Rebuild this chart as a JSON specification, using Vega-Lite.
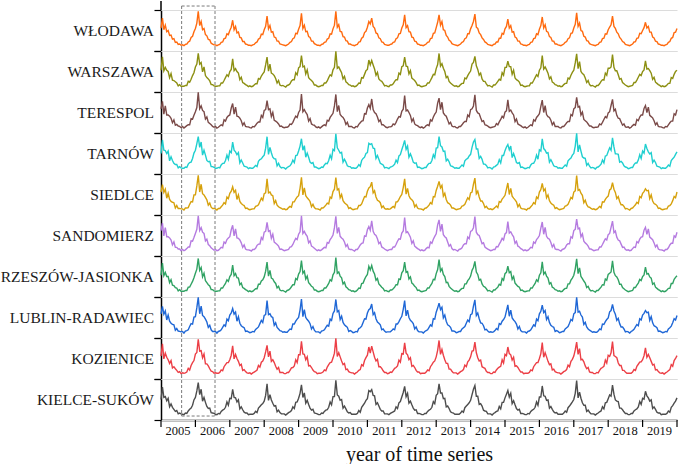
{
"$schema":"https://vega.github.io/schema/vega-lite/v6.json",
"autosize":{"type":"pad"},
"padding":{"left":0,"top":0,"right":0,"bottom":0},
"background":"white",
"bounds":"flush",
"data":{"values":[
{"t":2005,"a":56,"b":53,"c":59,"d":50,"e":56,"f":62,"g":53,"h":59,"i":56,"j":50},
{"t":2005.042,"a":80,"b":86,"c":77,"d":83,"e":74,"f":80,"g":83,"h":77,"i":86,"j":80},
{"t":2005.083,"a":52,"b":52,"c":46,"d":58,"e":55,"f":49,"g":52,"h":58,"i":49,"j":55},
{"t":2005.125,"a":63,"b":60,"c":66,"d":57,"e":63,"f":69,"g":60,"h":66,"i":63,"j":57},
{"t":2005.167,"a":47,"b":53,"c":44,"d":50,"e":41,"f":47,"g":50,"h":44,"i":53,"j":47},
{"t":2005.208,"a":50,"b":50,"c":44,"d":56,"e":53,"f":47,"g":50,"h":56,"i":47,"j":53},
{"t":2005.25,"a":38,"b":35,"c":41,"d":32,"e":38,"f":44,"g":35,"h":41,"i":38,"j":32},
{"t":2005.292,"a":39,"b":45,"c":36,"d":42,"e":33,"f":39,"g":42,"h":36,"i":45,"j":39},
{"t":2005.333,"a":29,"b":29,"c":25,"d":33,"e":31,"f":27,"g":29,"h":33,"i":27,"j":31},
{"t":2005.375,"a":30,"b":28,"c":32,"d":26,"e":30,"f":34,"g":28,"h":32,"i":30,"j":26},
{"t":2005.417,"a":21,"b":25,"c":19,"d":23,"e":17,"f":21,"g":23,"h":19,"i":25,"j":21},
{"t":2005.458,"a":22,"b":22,"c":21,"d":23,"e":23,"f":21,"g":22,"h":23,"i":21,"j":23},
{"t":2005.5,"a":16,"b":15,"c":17,"d":15,"e":16,"f":17,"g":15,"h":17,"i":16,"j":15},
{"t":2005.542,"a":17,"b":18,"c":16,"d":18,"e":16,"f":17,"g":18,"h":16,"i":18,"j":17},
{"t":2005.583,"a":14,"b":14,"c":13,"d":15,"e":15,"f":13,"g":14,"h":15,"i":13,"j":15},
{"t":2005.625,"a":15,"b":14,"c":16,"d":14,"e":15,"f":16,"g":14,"h":16,"i":15,"j":14},
{"t":2005.667,"a":13,"b":14,"c":12,"d":14,"e":12,"f":13,"g":14,"h":12,"i":14,"j":13},
{"t":2005.708,"a":16,"b":16,"c":15,"d":17,"e":17,"f":15,"g":16,"h":17,"i":15,"j":17},
{"t":2005.75,"a":17,"b":16,"c":18,"d":16,"e":17,"f":18,"g":16,"h":18,"i":17,"j":16},
{"t":2005.792,"a":22,"b":26,"c":20,"d":24,"e":18,"f":22,"g":24,"h":20,"i":26,"j":22},
{"t":2005.833,"a":24,"b":24,"c":20,"d":28,"e":26,"f":22,"g":24,"h":28,"i":22,"j":26},
{"t":2005.875,"a":33,"b":31,"c":35,"d":29,"e":33,"f":37,"g":31,"h":35,"i":33,"j":29},
{"t":2005.917,"a":36,"b":40,"c":34,"d":38,"e":32,"f":36,"g":38,"h":34,"i":40,"j":36},
{"t":2005.958,"a":47,"b":47,"c":43,"d":51,"e":49,"f":45,"g":47,"h":51,"i":45,"j":49},
{"t":2006,"a":55,"b":61,"c":52,"d":58,"e":49,"f":55,"g":58,"h":52,"i":61,"j":55},
{"t":2006.042,"a":68,"b":68,"c":62,"d":74,"e":71,"f":65,"g":68,"h":74,"i":65,"j":71},
{"t":2006.083,"a":97,"b":94,"c":99,"d":91,"e":97,"f":98,"g":94,"h":99,"i":97,"j":91},
{"t":2006.125,"a":62,"b":68,"c":59,"d":65,"e":56,"f":62,"g":65,"h":59,"i":68,"j":62},
{"t":2006.167,"a":72,"b":72,"c":66,"d":78,"e":75,"f":69,"g":72,"h":78,"i":69,"j":75},
{"t":2006.208,"a":52,"b":49,"c":55,"d":46,"e":52,"f":58,"g":49,"h":55,"i":52,"j":46},
{"t":2006.25,"a":55,"b":61,"c":52,"d":58,"e":49,"f":55,"g":58,"h":52,"i":61,"j":55},
{"t":2006.292,"a":40,"b":40,"c":34,"d":46,"e":43,"f":37,"g":40,"h":46,"i":37,"j":43},
{"t":2006.333,"a":37,"b":35,"c":39,"d":33,"e":37,"f":41,"g":35,"h":39,"i":37,"j":33},
{"t":2006.375,"a":28,"b":32,"c":26,"d":30,"e":24,"f":28,"g":30,"h":26,"i":32,"j":28},
{"t":2006.417,"a":27,"b":27,"c":23,"d":31,"e":29,"f":25,"g":27,"h":31,"i":25,"j":29},
{"t":2006.458,"a":19,"b":18,"c":20,"d":18,"e":19,"f":20,"g":18,"h":20,"i":19,"j":18},
{"t":2006.5,"a":17,"b":18,"c":16,"d":18,"e":16,"f":17,"g":18,"h":16,"i":18,"j":17},
{"t":2006.542,"a":15,"b":15,"c":14,"d":16,"e":16,"f":14,"g":15,"h":16,"i":14,"j":16},
{"t":2006.583,"a":15,"b":14,"c":16,"d":14,"e":15,"f":16,"g":14,"h":16,"i":15,"j":14},
{"t":2006.625,"a":13,"b":14,"c":12,"d":14,"e":12,"f":13,"g":14,"h":12,"i":14,"j":13},
{"t":2006.667,"a":15,"b":15,"c":14,"d":16,"e":16,"f":14,"g":15,"h":16,"i":14,"j":16},
{"t":2006.708,"a":16,"b":15,"c":17,"d":15,"e":16,"f":17,"g":15,"h":17,"i":16,"j":15},
{"t":2006.75,"a":21,"b":22,"c":20,"d":22,"e":20,"f":21,"g":22,"h":20,"i":22,"j":21},
{"t":2006.792,"a":22,"b":22,"c":18,"d":26,"e":24,"f":20,"g":22,"h":26,"i":20,"j":24},
{"t":2006.833,"a":30,"b":28,"c":32,"d":26,"e":30,"f":34,"g":28,"h":32,"i":30,"j":26},
{"t":2006.875,"a":31,"b":35,"c":29,"d":33,"e":27,"f":31,"g":33,"h":29,"i":35,"j":31},
{"t":2006.917,"a":42,"b":42,"c":38,"d":46,"e":44,"f":40,"g":42,"h":46,"i":40,"j":44},
{"t":2006.958,"a":40,"b":38,"c":42,"d":36,"e":40,"f":44,"g":38,"h":42,"i":40,"j":36},
{"t":2007,"a":50,"b":50,"c":44,"d":56,"e":53,"f":47,"g":50,"h":56,"i":47,"j":53},
{"t":2007.042,"a":58,"b":55,"c":61,"d":52,"e":58,"f":64,"g":55,"h":61,"i":58,"j":52},
{"t":2007.083,"a":75,"b":81,"c":72,"d":78,"e":69,"f":75,"g":78,"h":72,"i":81,"j":75},
{"t":2007.125,"a":52,"b":52,"c":46,"d":58,"e":55,"f":49,"g":52,"h":58,"i":49,"j":55},
{"t":2007.167,"a":60,"b":57,"c":63,"d":54,"e":60,"f":66,"g":57,"h":63,"i":60,"j":54},
{"t":2007.208,"a":44,"b":50,"c":41,"d":47,"e":38,"f":44,"g":47,"h":41,"i":50,"j":44},
{"t":2007.25,"a":46,"b":46,"c":40,"d":52,"e":49,"f":43,"g":46,"h":52,"i":43,"j":49},
{"t":2007.292,"a":33,"b":30,"c":36,"d":27,"e":33,"f":39,"g":30,"h":36,"i":33,"j":27},
{"t":2007.333,"a":32,"b":36,"c":30,"d":34,"e":28,"f":32,"g":34,"h":30,"i":36,"j":32},
{"t":2007.375,"a":23,"b":23,"c":19,"d":27,"e":25,"f":21,"g":23,"h":27,"i":21,"j":25},
{"t":2007.417,"a":23,"b":21,"c":25,"d":19,"e":23,"f":27,"g":21,"h":25,"i":23,"j":19},
{"t":2007.458,"a":17,"b":18,"c":16,"d":18,"e":16,"f":17,"g":18,"h":16,"i":18,"j":17},
{"t":2007.5,"a":16,"b":16,"c":15,"d":17,"e":17,"f":15,"g":16,"h":17,"i":15,"j":17},
{"t":2007.542,"a":14,"b":13,"c":15,"d":13,"e":14,"f":15,"g":13,"h":15,"i":14,"j":13},
{"t":2007.583,"a":14,"b":15,"c":13,"d":15,"e":13,"f":14,"g":15,"h":13,"i":15,"j":14},
{"t":2007.625,"a":13,"b":13,"c":12,"d":14,"e":14,"f":12,"g":13,"h":14,"i":12,"j":14},
{"t":2007.667,"a":15,"b":14,"c":16,"d":14,"e":15,"f":16,"g":14,"h":16,"i":15,"j":14},
{"t":2007.708,"a":16,"b":17,"c":15,"d":17,"e":15,"f":16,"g":17,"h":15,"i":17,"j":16},
{"t":2007.75,"a":20,"b":20,"c":19,"d":21,"e":21,"f":19,"g":20,"h":21,"i":19,"j":21},
{"t":2007.792,"a":22,"b":20,"c":24,"d":18,"e":22,"f":26,"g":20,"h":24,"i":22,"j":18},
{"t":2007.833,"a":29,"b":33,"c":27,"d":31,"e":25,"f":29,"g":31,"h":27,"i":33,"j":29},
{"t":2007.875,"a":31,"b":31,"c":27,"d":35,"e":33,"f":29,"g":31,"h":35,"i":29,"j":33},
{"t":2007.917,"a":41,"b":39,"c":43,"d":37,"e":41,"f":45,"g":39,"h":43,"i":41,"j":37},
{"t":2007.958,"a":40,"b":44,"c":38,"d":42,"e":36,"f":40,"g":42,"h":38,"i":44,"j":40},
{"t":2008,"a":52,"b":49,"c":55,"d":46,"e":52,"f":58,"g":49,"h":55,"i":52,"j":46},
{"t":2008.042,"a":60,"b":66,"c":57,"d":63,"e":54,"f":60,"g":63,"h":57,"i":66,"j":60},
{"t":2008.083,"a":85,"b":85,"c":79,"d":91,"e":88,"f":82,"g":85,"h":91,"i":82,"j":88},
{"t":2008.125,"a":54,"b":51,"c":57,"d":48,"e":54,"f":60,"g":51,"h":57,"i":54,"j":48},
{"t":2008.167,"a":62,"b":68,"c":59,"d":65,"e":56,"f":62,"g":65,"h":59,"i":68,"j":62},
{"t":2008.208,"a":46,"b":46,"c":40,"d":52,"e":49,"f":43,"g":46,"h":52,"i":43,"j":49},
{"t":2008.25,"a":47,"b":44,"c":50,"d":41,"e":47,"f":53,"g":44,"h":50,"i":47,"j":41},
{"t":2008.292,"a":34,"b":40,"c":31,"d":37,"e":28,"f":34,"g":37,"h":31,"i":40,"j":34},
{"t":2008.333,"a":33,"b":33,"c":29,"d":37,"e":35,"f":31,"g":33,"h":37,"i":31,"j":35},
{"t":2008.375,"a":24,"b":22,"c":26,"d":20,"e":24,"f":28,"g":22,"h":26,"i":24,"j":20},
{"t":2008.417,"a":24,"b":28,"c":22,"d":26,"e":20,"f":24,"g":26,"h":22,"i":28,"j":24},
{"t":2008.458,"a":17,"b":17,"c":16,"d":18,"e":18,"f":16,"g":17,"h":18,"i":16,"j":18},
{"t":2008.5,"a":16,"b":15,"c":17,"d":15,"e":16,"f":17,"g":15,"h":17,"i":16,"j":15},
{"t":2008.542,"a":15,"b":16,"c":14,"d":16,"e":14,"f":15,"g":16,"h":14,"i":16,"j":15},
{"t":2008.583,"a":14,"b":14,"c":13,"d":15,"e":15,"f":13,"g":14,"h":15,"i":13,"j":15},
{"t":2008.625,"a":13,"b":12,"c":14,"d":12,"e":13,"f":14,"g":12,"h":14,"i":13,"j":12},
{"t":2008.667,"a":15,"b":16,"c":14,"d":16,"e":14,"f":15,"g":16,"h":14,"i":16,"j":15},
{"t":2008.708,"a":17,"b":17,"c":16,"d":18,"e":18,"f":16,"g":17,"h":18,"i":16,"j":18},
{"t":2008.75,"a":21,"b":20,"c":22,"d":20,"e":21,"f":22,"g":20,"h":22,"i":21,"j":20},
{"t":2008.792,"a":23,"b":27,"c":21,"d":25,"e":19,"f":23,"g":25,"h":21,"i":27,"j":23},
{"t":2008.833,"a":30,"b":30,"c":26,"d":34,"e":32,"f":28,"g":30,"h":34,"i":28,"j":32},
{"t":2008.875,"a":32,"b":30,"c":34,"d":28,"e":32,"f":36,"g":30,"h":34,"i":32,"j":28},
{"t":2008.917,"a":43,"b":47,"c":41,"d":45,"e":39,"f":43,"g":45,"h":41,"i":47,"j":43},
{"t":2008.958,"a":42,"b":42,"c":38,"d":46,"e":44,"f":40,"g":42,"h":46,"i":40,"j":44},
{"t":2009,"a":53,"b":59,"c":50,"d":56,"e":47,"f":53,"g":56,"h":50,"i":59,"j":53},
{"t":2009.042,"a":62,"b":62,"c":56,"d":68,"e":65,"f":59,"g":62,"h":68,"i":59,"j":65},
{"t":2009.083,"a":92,"b":89,"c":95,"d":86,"e":92,"f":98,"g":89,"h":95,"i":92,"j":86},
{"t":2009.125,"a":55,"b":61,"c":52,"d":58,"e":49,"f":55,"g":58,"h":52,"i":61,"j":55},
{"t":2009.167,"a":63,"b":63,"c":57,"d":69,"e":66,"f":60,"g":63,"h":69,"i":60,"j":66},
{"t":2009.208,"a":47,"b":44,"c":50,"d":41,"e":47,"f":53,"g":44,"h":50,"i":47,"j":41},
{"t":2009.25,"a":48,"b":54,"c":45,"d":51,"e":42,"f":48,"g":51,"h":45,"i":54,"j":48},
{"t":2009.292,"a":35,"b":35,"c":29,"d":41,"e":38,"f":32,"g":35,"h":41,"i":32,"j":38},
{"t":2009.333,"a":33,"b":31,"c":35,"d":29,"e":33,"f":37,"g":31,"h":35,"i":33,"j":29},
{"t":2009.375,"a":24,"b":28,"c":22,"d":26,"e":20,"f":24,"g":26,"h":22,"i":28,"j":24},
{"t":2009.417,"a":24,"b":24,"c":20,"d":28,"e":26,"f":22,"g":24,"h":28,"i":22,"j":26},
{"t":2009.458,"a":18,"b":17,"c":19,"d":17,"e":18,"f":19,"g":17,"h":19,"i":18,"j":17},
{"t":2009.5,"a":16,"b":17,"c":15,"d":17,"e":15,"f":16,"g":17,"h":15,"i":17,"j":16},
{"t":2009.542,"a":14,"b":14,"c":13,"d":15,"e":15,"f":13,"g":14,"h":15,"i":13,"j":15},
{"t":2009.583,"a":14,"b":13,"c":15,"d":13,"e":14,"f":15,"g":13,"h":15,"i":14,"j":13},
{"t":2009.625,"a":13,"b":14,"c":12,"d":14,"e":12,"f":13,"g":14,"h":12,"i":14,"j":13},
{"t":2009.667,"a":16,"b":16,"c":15,"d":17,"e":17,"f":15,"g":16,"h":17,"i":15,"j":17},
{"t":2009.708,"a":17,"b":16,"c":18,"d":16,"e":17,"f":18,"g":16,"h":18,"i":17,"j":16},
{"t":2009.75,"a":21,"b":22,"c":20,"d":22,"e":20,"f":21,"g":22,"h":20,"i":22,"j":21},
{"t":2009.792,"a":22,"b":22,"c":18,"d":26,"e":24,"f":20,"g":22,"h":26,"i":20,"j":24},
{"t":2009.833,"a":29,"b":27,"c":31,"d":25,"e":29,"f":33,"g":27,"h":31,"i":29,"j":25},
{"t":2009.875,"a":31,"b":35,"c":29,"d":33,"e":27,"f":31,"g":33,"h":29,"i":35,"j":31},
{"t":2009.917,"a":42,"b":42,"c":38,"d":46,"e":44,"f":40,"g":42,"h":46,"i":40,"j":44},
{"t":2009.958,"a":41,"b":39,"c":43,"d":37,"e":41,"f":45,"g":39,"h":43,"i":41,"j":37},
{"t":2010,"a":54,"b":54,"c":48,"d":60,"e":57,"f":51,"g":54,"h":60,"i":51,"j":57},
{"t":2010.042,"a":63,"b":60,"c":66,"d":57,"e":63,"f":69,"g":60,"h":66,"i":63,"j":57},
{"t":2010.083,"a":97,"b":99,"c":94,"d":98,"e":91,"f":97,"g":96,"h":94,"i":99,"j":97},
{"t":2010.125,"a":58,"b":58,"c":52,"d":64,"e":61,"f":55,"g":58,"h":64,"i":55,"j":61},
{"t":2010.167,"a":64,"b":61,"c":67,"d":58,"e":64,"f":70,"g":61,"h":67,"i":64,"j":58},
{"t":2010.208,"a":48,"b":54,"c":45,"d":51,"e":42,"f":48,"g":51,"h":45,"i":54,"j":48},
{"t":2010.25,"a":47,"b":47,"c":41,"d":53,"e":50,"f":44,"g":47,"h":53,"i":44,"j":50},
{"t":2010.292,"a":35,"b":32,"c":38,"d":29,"e":35,"f":41,"g":32,"h":38,"i":35,"j":29},
{"t":2010.333,"a":34,"b":38,"c":32,"d":36,"e":30,"f":34,"g":36,"h":32,"i":38,"j":34},
{"t":2010.375,"a":25,"b":25,"c":21,"d":29,"e":27,"f":23,"g":25,"h":29,"i":23,"j":27},
{"t":2010.417,"a":24,"b":22,"c":26,"d":20,"e":24,"f":28,"g":22,"h":26,"i":24,"j":20},
{"t":2010.458,"a":17,"b":18,"c":16,"d":18,"e":16,"f":17,"g":18,"h":16,"i":18,"j":17},
{"t":2010.5,"a":17,"b":17,"c":16,"d":18,"e":18,"f":16,"g":17,"h":18,"i":16,"j":18},
{"t":2010.542,"a":15,"b":14,"c":16,"d":14,"e":15,"f":16,"g":14,"h":16,"i":15,"j":14},
{"t":2010.583,"a":14,"b":15,"c":13,"d":15,"e":13,"f":14,"g":15,"h":13,"i":15,"j":14},
{"t":2010.625,"a":13,"b":13,"c":12,"d":14,"e":14,"f":12,"g":13,"h":14,"i":12,"j":14},
{"t":2010.667,"a":15,"b":14,"c":16,"d":14,"e":15,"f":16,"g":14,"h":16,"i":15,"j":14},
{"t":2010.708,"a":16,"b":17,"c":15,"d":17,"e":15,"f":16,"g":17,"h":15,"i":17,"j":16},
{"t":2010.75,"a":22,"b":22,"c":21,"d":23,"e":23,"f":21,"g":22,"h":23,"i":21,"j":23},
{"t":2010.792,"a":23,"b":21,"c":25,"d":19,"e":23,"f":27,"g":21,"h":25,"i":23,"j":19},
{"t":2010.833,"a":31,"b":35,"c":29,"d":33,"e":27,"f":31,"g":33,"h":29,"i":35,"j":31},
{"t":2010.875,"a":34,"b":34,"c":30,"d":38,"e":36,"f":32,"g":34,"h":38,"i":32,"j":36},
{"t":2010.917,"a":45,"b":43,"c":47,"d":41,"e":45,"f":49,"g":43,"h":47,"i":45,"j":41},
{"t":2010.958,"a":48,"b":52,"c":46,"d":50,"e":44,"f":48,"g":50,"h":46,"i":52,"j":48},
{"t":2011,"a":58,"b":55,"c":61,"d":52,"e":58,"f":64,"g":55,"h":61,"i":58,"j":52},
{"t":2011.042,"a":72,"b":78,"c":69,"d":75,"e":66,"f":72,"g":75,"h":69,"i":78,"j":72},
{"t":2011.083,"a":66,"b":66,"c":60,"d":72,"e":69,"f":63,"g":66,"h":72,"i":63,"j":69},
{"t":2011.125,"a":80,"b":77,"c":83,"d":74,"e":80,"f":86,"g":77,"h":83,"i":80,"j":74},
{"t":2011.167,"a":60,"b":66,"c":57,"d":63,"e":54,"f":60,"g":63,"h":57,"i":66,"j":60},
{"t":2011.208,"a":56,"b":56,"c":50,"d":62,"e":59,"f":53,"g":56,"h":62,"i":53,"j":59},
{"t":2011.25,"a":44,"b":41,"c":47,"d":38,"e":44,"f":50,"g":41,"h":47,"i":44,"j":38},
{"t":2011.292,"a":42,"b":48,"c":39,"d":45,"e":36,"f":42,"g":45,"h":39,"i":48,"j":42},
{"t":2011.333,"a":32,"b":32,"c":28,"d":36,"e":34,"f":30,"g":32,"h":36,"i":30,"j":34},
{"t":2011.375,"a":30,"b":28,"c":32,"d":26,"e":30,"f":34,"g":28,"h":32,"i":30,"j":26},
{"t":2011.417,"a":22,"b":26,"c":20,"d":24,"e":18,"f":22,"g":24,"h":20,"i":26,"j":22},
{"t":2011.458,"a":21,"b":21,"c":20,"d":22,"e":22,"f":20,"g":21,"h":22,"i":20,"j":22},
{"t":2011.5,"a":16,"b":15,"c":17,"d":15,"e":16,"f":17,"g":15,"h":17,"i":16,"j":15},
{"t":2011.542,"a":15,"b":16,"c":14,"d":16,"e":14,"f":15,"g":16,"h":14,"i":16,"j":15},
{"t":2011.583,"a":14,"b":14,"c":13,"d":15,"e":15,"f":13,"g":14,"h":15,"i":13,"j":15},
{"t":2011.625,"a":14,"b":13,"c":15,"d":13,"e":14,"f":15,"g":13,"h":15,"i":14,"j":13},
{"t":2011.667,"a":16,"b":17,"c":15,"d":17,"e":15,"f":16,"g":17,"h":15,"i":17,"j":16},
{"t":2011.708,"a":17,"b":17,"c":16,"d":18,"e":18,"f":16,"g":17,"h":18,"i":16,"j":18},
{"t":2011.75,"a":21,"b":20,"c":22,"d":20,"e":21,"f":22,"g":20,"h":22,"i":21,"j":20},
{"t":2011.792,"a":22,"b":26,"c":20,"d":24,"e":18,"f":22,"g":24,"h":20,"i":26,"j":22},
{"t":2011.833,"a":30,"b":30,"c":26,"d":34,"e":32,"f":28,"g":30,"h":34,"i":28,"j":32},
{"t":2011.875,"a":32,"b":30,"c":34,"d":28,"e":32,"f":36,"g":30,"h":34,"i":32,"j":28},
{"t":2011.917,"a":42,"b":46,"c":40,"d":44,"e":38,"f":42,"g":44,"h":40,"i":46,"j":42},
{"t":2011.958,"a":43,"b":43,"c":39,"d":47,"e":45,"f":41,"g":43,"h":47,"i":41,"j":45},
{"t":2012,"a":56,"b":62,"c":53,"d":59,"e":50,"f":56,"g":59,"h":53,"i":62,"j":56},
{"t":2012.042,"a":64,"b":64,"c":58,"d":70,"e":67,"f":61,"g":64,"h":70,"i":61,"j":67},
{"t":2012.083,"a":88,"b":85,"c":91,"d":82,"e":88,"f":94,"g":85,"h":91,"i":88,"j":82},
{"t":2012.125,"a":57,"b":63,"c":54,"d":60,"e":51,"f":57,"g":60,"h":54,"i":63,"j":57},
{"t":2012.167,"a":62,"b":62,"c":56,"d":68,"e":65,"f":59,"g":62,"h":68,"i":59,"j":65},
{"t":2012.208,"a":47,"b":44,"c":50,"d":41,"e":47,"f":53,"g":44,"h":50,"i":47,"j":41},
{"t":2012.25,"a":46,"b":52,"c":43,"d":49,"e":40,"f":46,"g":49,"h":43,"i":52,"j":46},
{"t":2012.292,"a":34,"b":34,"c":28,"d":40,"e":37,"f":31,"g":34,"h":40,"i":31,"j":37},
{"t":2012.333,"a":33,"b":31,"c":35,"d":29,"e":33,"f":37,"g":31,"h":35,"i":33,"j":29},
{"t":2012.375,"a":24,"b":28,"c":22,"d":26,"e":20,"f":24,"g":26,"h":22,"i":28,"j":24},
{"t":2012.417,"a":23,"b":23,"c":19,"d":27,"e":25,"f":21,"g":23,"h":27,"i":21,"j":25},
{"t":2012.458,"a":17,"b":16,"c":18,"d":16,"e":17,"f":18,"g":16,"h":18,"i":17,"j":16},
{"t":2012.5,"a":16,"b":17,"c":15,"d":17,"e":15,"f":16,"g":17,"h":15,"i":17,"j":16},
{"t":2012.542,"a":14,"b":14,"c":13,"d":15,"e":15,"f":13,"g":14,"h":15,"i":13,"j":15},
{"t":2012.583,"a":14,"b":13,"c":15,"d":13,"e":14,"f":15,"g":13,"h":15,"i":14,"j":13},
{"t":2012.625,"a":13,"b":14,"c":12,"d":14,"e":12,"f":13,"g":14,"h":12,"i":14,"j":13},
{"t":2012.667,"a":15,"b":15,"c":14,"d":16,"e":16,"f":14,"g":15,"h":16,"i":14,"j":16},
{"t":2012.708,"a":17,"b":16,"c":18,"d":16,"e":17,"f":18,"g":16,"h":18,"i":17,"j":16},
{"t":2012.75,"a":21,"b":22,"c":20,"d":22,"e":20,"f":21,"g":22,"h":20,"i":22,"j":21},
{"t":2012.792,"a":22,"b":22,"c":18,"d":26,"e":24,"f":20,"g":22,"h":26,"i":20,"j":24},
{"t":2012.833,"a":30,"b":28,"c":32,"d":26,"e":30,"f":34,"g":28,"h":32,"i":30,"j":26},
{"t":2012.875,"a":31,"b":35,"c":29,"d":33,"e":27,"f":31,"g":33,"h":29,"i":35,"j":31},
{"t":2012.917,"a":43,"b":43,"c":39,"d":47,"e":45,"f":41,"g":43,"h":47,"i":41,"j":45},
{"t":2012.958,"a":44,"b":42,"c":46,"d":40,"e":44,"f":48,"g":42,"h":46,"i":44,"j":40},
{"t":2013,"a":57,"b":57,"c":51,"d":63,"e":60,"f":54,"g":57,"h":63,"i":54,"j":60},
{"t":2013.042,"a":70,"b":67,"c":73,"d":64,"e":70,"f":76,"g":67,"h":73,"i":70,"j":64},
{"t":2013.083,"a":88,"b":94,"c":85,"d":91,"e":82,"f":88,"g":91,"h":85,"i":94,"j":88},
{"t":2013.125,"a":63,"b":63,"c":57,"d":69,"e":66,"f":60,"g":63,"h":69,"i":60,"j":66},
{"t":2013.167,"a":72,"b":69,"c":75,"d":66,"e":72,"f":78,"g":69,"h":75,"i":72,"j":66},
{"t":2013.208,"a":52,"b":58,"c":49,"d":55,"e":46,"f":52,"g":55,"h":49,"i":58,"j":52},
{"t":2013.25,"a":50,"b":50,"c":44,"d":56,"e":53,"f":47,"g":50,"h":56,"i":47,"j":53},
{"t":2013.292,"a":38,"b":35,"c":41,"d":32,"e":38,"f":44,"g":35,"h":41,"i":38,"j":32},
{"t":2013.333,"a":34,"b":38,"c":32,"d":36,"e":30,"f":34,"g":36,"h":32,"i":38,"j":34},
{"t":2013.375,"a":26,"b":26,"c":22,"d":30,"e":28,"f":24,"g":26,"h":30,"i":24,"j":28},
{"t":2013.417,"a":24,"b":22,"c":26,"d":20,"e":24,"f":28,"g":22,"h":26,"i":24,"j":20},
{"t":2013.458,"a":18,"b":19,"c":17,"d":19,"e":17,"f":18,"g":19,"h":17,"i":19,"j":18},
{"t":2013.5,"a":16,"b":16,"c":15,"d":17,"e":17,"f":15,"g":16,"h":17,"i":15,"j":17},
{"t":2013.542,"a":15,"b":14,"c":16,"d":14,"e":15,"f":16,"g":14,"h":16,"i":15,"j":14},
{"t":2013.583,"a":14,"b":15,"c":13,"d":15,"e":13,"f":14,"g":15,"h":13,"i":15,"j":14},
{"t":2013.625,"a":13,"b":13,"c":12,"d":14,"e":14,"f":12,"g":13,"h":14,"i":12,"j":14},
{"t":2013.667,"a":15,"b":14,"c":16,"d":14,"e":15,"f":16,"g":14,"h":16,"i":15,"j":14},
{"t":2013.708,"a":17,"b":18,"c":16,"d":18,"e":16,"f":17,"g":18,"h":16,"i":18,"j":17},
{"t":2013.75,"a":21,"b":21,"c":20,"d":22,"e":22,"f":20,"g":21,"h":22,"i":20,"j":22},
{"t":2013.792,"a":23,"b":21,"c":25,"d":19,"e":23,"f":27,"g":21,"h":25,"i":23,"j":19},
{"t":2013.833,"a":30,"b":34,"c":28,"d":32,"e":26,"f":30,"g":32,"h":28,"i":34,"j":30},
{"t":2013.875,"a":32,"b":32,"c":28,"d":36,"e":34,"f":30,"g":32,"h":36,"i":30,"j":34},
{"t":2013.917,"a":42,"b":40,"c":44,"d":38,"e":42,"f":46,"g":40,"h":44,"i":42,"j":38},
{"t":2013.958,"a":42,"b":46,"c":40,"d":44,"e":38,"f":42,"g":44,"h":40,"i":46,"j":42},
{"t":2014,"a":54,"b":51,"c":57,"d":48,"e":54,"f":60,"g":51,"h":57,"i":54,"j":48},
{"t":2014.042,"a":62,"b":68,"c":59,"d":65,"e":56,"f":62,"g":65,"h":59,"i":68,"j":62},
{"t":2014.083,"a":72,"b":72,"c":66,"d":78,"e":75,"f":69,"g":72,"h":78,"i":69,"j":75},
{"t":2014.125,"a":90,"b":87,"c":93,"d":84,"e":90,"f":96,"g":87,"h":93,"i":90,"j":84},
{"t":2014.167,"a":58,"b":64,"c":55,"d":61,"e":52,"f":58,"g":61,"h":55,"i":64,"j":58},
{"t":2014.208,"a":55,"b":55,"c":49,"d":61,"e":58,"f":52,"g":55,"h":61,"i":52,"j":58},
{"t":2014.25,"a":44,"b":41,"c":47,"d":38,"e":44,"f":50,"g":41,"h":47,"i":44,"j":38},
{"t":2014.292,"a":40,"b":46,"c":37,"d":43,"e":34,"f":40,"g":43,"h":37,"i":46,"j":40},
{"t":2014.333,"a":32,"b":32,"c":28,"d":36,"e":34,"f":30,"g":32,"h":36,"i":30,"j":34},
{"t":2014.375,"a":28,"b":26,"c":30,"d":24,"e":28,"f":32,"g":26,"h":30,"i":28,"j":24},
{"t":2014.417,"a":22,"b":26,"c":20,"d":24,"e":18,"f":22,"g":24,"h":20,"i":26,"j":22},
{"t":2014.458,"a":20,"b":20,"c":19,"d":21,"e":21,"f":19,"g":20,"h":21,"i":19,"j":21},
{"t":2014.5,"a":16,"b":15,"c":17,"d":15,"e":16,"f":17,"g":15,"h":17,"i":16,"j":15},
{"t":2014.542,"a":15,"b":16,"c":14,"d":16,"e":14,"f":15,"g":16,"h":14,"i":16,"j":15},
{"t":2014.583,"a":14,"b":14,"c":13,"d":15,"e":15,"f":13,"g":14,"h":15,"i":13,"j":15},
{"t":2014.625,"a":13,"b":12,"c":14,"d":12,"e":13,"f":14,"g":12,"h":14,"i":13,"j":12},
{"t":2014.667,"a":16,"b":17,"c":15,"d":17,"e":15,"f":16,"g":17,"h":15,"i":17,"j":16},
{"t":2014.708,"a":17,"b":17,"c":16,"d":18,"e":18,"f":16,"g":17,"h":18,"i":16,"j":18},
{"t":2014.75,"a":22,"b":21,"c":23,"d":21,"e":22,"f":23,"g":21,"h":23,"i":22,"j":21},
{"t":2014.792,"a":22,"b":26,"c":20,"d":24,"e":18,"f":22,"g":24,"h":20,"i":26,"j":22},
{"t":2014.833,"a":31,"b":31,"c":27,"d":35,"e":33,"f":29,"g":31,"h":35,"i":29,"j":33},
{"t":2014.875,"a":31,"b":29,"c":33,"d":27,"e":31,"f":35,"g":29,"h":33,"i":31,"j":27},
{"t":2014.917,"a":43,"b":47,"c":41,"d":45,"e":39,"f":43,"g":45,"h":41,"i":47,"j":43},
{"t":2014.958,"a":41,"b":41,"c":37,"d":45,"e":43,"f":39,"g":41,"h":45,"i":39,"j":43},
{"t":2015,"a":54,"b":60,"c":51,"d":57,"e":48,"f":54,"g":57,"h":51,"i":60,"j":54},
{"t":2015.042,"a":60,"b":60,"c":54,"d":66,"e":63,"f":57,"g":60,"h":66,"i":57,"j":63},
{"t":2015.083,"a":78,"b":75,"c":81,"d":72,"e":78,"f":84,"g":75,"h":81,"i":78,"j":72},
{"t":2015.125,"a":56,"b":62,"c":53,"d":59,"e":50,"f":56,"g":59,"h":53,"i":62,"j":56},
{"t":2015.167,"a":62,"b":62,"c":56,"d":68,"e":65,"f":59,"g":62,"h":68,"i":59,"j":65},
{"t":2015.208,"a":46,"b":43,"c":49,"d":40,"e":46,"f":52,"g":43,"h":49,"i":46,"j":40},
{"t":2015.25,"a":47,"b":53,"c":44,"d":50,"e":41,"f":47,"g":50,"h":44,"i":53,"j":47},
{"t":2015.292,"a":34,"b":34,"c":28,"d":40,"e":37,"f":31,"g":34,"h":40,"i":31,"j":37},
{"t":2015.333,"a":32,"b":30,"c":34,"d":28,"e":32,"f":36,"g":30,"h":34,"i":32,"j":28},
{"t":2015.375,"a":24,"b":28,"c":22,"d":26,"e":20,"f":24,"g":26,"h":22,"i":28,"j":24},
{"t":2015.417,"a":24,"b":24,"c":20,"d":28,"e":26,"f":22,"g":24,"h":28,"i":22,"j":26},
{"t":2015.458,"a":17,"b":16,"c":18,"d":16,"e":17,"f":18,"g":16,"h":18,"i":17,"j":16},
{"t":2015.5,"a":16,"b":17,"c":15,"d":17,"e":15,"f":16,"g":17,"h":15,"i":17,"j":16},
{"t":2015.542,"a":14,"b":14,"c":13,"d":15,"e":15,"f":13,"g":14,"h":15,"i":13,"j":15},
{"t":2015.583,"a":14,"b":13,"c":15,"d":13,"e":14,"f":15,"g":13,"h":15,"i":14,"j":13},
{"t":2015.625,"a":13,"b":14,"c":12,"d":14,"e":12,"f":13,"g":14,"h":12,"i":14,"j":13},
{"t":2015.667,"a":15,"b":15,"c":14,"d":16,"e":16,"f":14,"g":15,"h":16,"i":14,"j":16},
{"t":2015.708,"a":16,"b":15,"c":17,"d":15,"e":16,"f":17,"g":15,"h":17,"i":16,"j":15},
{"t":2015.75,"a":21,"b":22,"c":20,"d":22,"e":20,"f":21,"g":22,"h":20,"i":22,"j":21},
{"t":2015.792,"a":22,"b":22,"c":18,"d":26,"e":24,"f":20,"g":22,"h":26,"i":20,"j":24},
{"t":2015.833,"a":30,"b":28,"c":32,"d":26,"e":30,"f":34,"g":28,"h":32,"i":30,"j":26},
{"t":2015.875,"a":31,"b":35,"c":29,"d":33,"e":27,"f":31,"g":33,"h":29,"i":35,"j":31},
{"t":2015.917,"a":42,"b":42,"c":38,"d":46,"e":44,"f":40,"g":42,"h":46,"i":40,"j":44},
{"t":2015.958,"a":40,"b":38,"c":42,"d":36,"e":40,"f":44,"g":38,"h":42,"i":40,"j":36},
{"t":2016,"a":53,"b":53,"c":47,"d":59,"e":56,"f":50,"g":53,"h":59,"i":50,"j":56},
{"t":2016.042,"a":62,"b":59,"c":65,"d":56,"e":62,"f":68,"g":59,"h":65,"i":62,"j":56},
{"t":2016.083,"a":83,"b":89,"c":80,"d":86,"e":77,"f":83,"g":86,"h":80,"i":89,"j":83},
{"t":2016.125,"a":56,"b":56,"c":50,"d":62,"e":59,"f":53,"g":56,"h":62,"i":53,"j":59},
{"t":2016.167,"a":64,"b":61,"c":67,"d":58,"e":64,"f":70,"g":61,"h":67,"i":64,"j":58},
{"t":2016.208,"a":48,"b":54,"c":45,"d":51,"e":42,"f":48,"g":51,"h":45,"i":54,"j":48},
{"t":2016.25,"a":46,"b":46,"c":40,"d":52,"e":49,"f":43,"g":46,"h":52,"i":43,"j":49},
{"t":2016.292,"a":35,"b":32,"c":38,"d":29,"e":35,"f":41,"g":32,"h":38,"i":35,"j":29},
{"t":2016.333,"a":33,"b":37,"c":31,"d":35,"e":29,"f":33,"g":35,"h":31,"i":37,"j":33},
{"t":2016.375,"a":24,"b":24,"c":20,"d":28,"e":26,"f":22,"g":24,"h":28,"i":22,"j":26},
{"t":2016.417,"a":24,"b":22,"c":26,"d":20,"e":24,"f":28,"g":22,"h":26,"i":24,"j":20},
{"t":2016.458,"a":17,"b":18,"c":16,"d":18,"e":16,"f":17,"g":18,"h":16,"i":18,"j":17},
{"t":2016.5,"a":17,"b":17,"c":16,"d":18,"e":18,"f":16,"g":17,"h":18,"i":16,"j":18},
{"t":2016.542,"a":15,"b":14,"c":16,"d":14,"e":15,"f":16,"g":14,"h":16,"i":15,"j":14},
{"t":2016.583,"a":14,"b":15,"c":13,"d":15,"e":13,"f":14,"g":15,"h":13,"i":15,"j":14},
{"t":2016.625,"a":13,"b":13,"c":12,"d":14,"e":14,"f":12,"g":13,"h":14,"i":12,"j":14},
{"t":2016.667,"a":15,"b":14,"c":16,"d":14,"e":15,"f":16,"g":14,"h":16,"i":15,"j":14},
{"t":2016.708,"a":17,"b":18,"c":16,"d":18,"e":16,"f":17,"g":18,"h":16,"i":18,"j":17},
{"t":2016.75,"a":21,"b":21,"c":20,"d":22,"e":22,"f":20,"g":21,"h":22,"i":20,"j":22},
{"t":2016.792,"a":23,"b":21,"c":25,"d":19,"e":23,"f":27,"g":21,"h":25,"i":23,"j":19},
{"t":2016.833,"a":30,"b":34,"c":28,"d":32,"e":26,"f":30,"g":32,"h":28,"i":34,"j":30},
{"t":2016.875,"a":32,"b":32,"c":28,"d":36,"e":34,"f":30,"g":32,"h":36,"i":30,"j":34},
{"t":2016.917,"a":43,"b":41,"c":45,"d":39,"e":43,"f":47,"g":41,"h":45,"i":43,"j":39},
{"t":2016.958,"a":44,"b":48,"c":42,"d":46,"e":40,"f":44,"g":46,"h":42,"i":48,"j":44},
{"t":2017,"a":56,"b":53,"c":59,"d":50,"e":56,"f":62,"g":53,"h":59,"i":56,"j":50},
{"t":2017.042,"a":65,"b":71,"c":62,"d":68,"e":59,"f":65,"g":68,"h":62,"i":71,"j":65},
{"t":2017.083,"a":93,"b":93,"c":87,"d":99,"e":96,"f":90,"g":93,"h":99,"i":90,"j":96},
{"t":2017.125,"a":60,"b":57,"c":63,"d":54,"e":60,"f":66,"g":57,"h":63,"i":60,"j":54},
{"t":2017.167,"a":68,"b":74,"c":65,"d":71,"e":62,"f":68,"g":71,"h":65,"i":74,"j":68},
{"t":2017.208,"a":50,"b":50,"c":44,"d":56,"e":53,"f":47,"g":50,"h":56,"i":47,"j":53},
{"t":2017.25,"a":48,"b":45,"c":51,"d":42,"e":48,"f":54,"g":45,"h":51,"i":48,"j":42},
{"t":2017.292,"a":36,"b":42,"c":33,"d":39,"e":30,"f":36,"g":39,"h":33,"i":42,"j":36},
{"t":2017.333,"a":34,"b":34,"c":30,"d":38,"e":36,"f":32,"g":34,"h":38,"i":32,"j":36},
{"t":2017.375,"a":25,"b":23,"c":27,"d":21,"e":25,"f":29,"g":23,"h":27,"i":25,"j":21},
{"t":2017.417,"a":24,"b":28,"c":22,"d":26,"e":20,"f":24,"g":26,"h":22,"i":28,"j":24},
{"t":2017.458,"a":18,"b":18,"c":17,"d":19,"e":19,"f":17,"g":18,"h":19,"i":17,"j":19},
{"t":2017.5,"a":16,"b":15,"c":17,"d":15,"e":16,"f":17,"g":15,"h":17,"i":16,"j":15},
{"t":2017.542,"a":15,"b":16,"c":14,"d":16,"e":14,"f":15,"g":16,"h":14,"i":16,"j":15},
{"t":2017.583,"a":14,"b":14,"c":13,"d":15,"e":15,"f":13,"g":14,"h":15,"i":13,"j":15},
{"t":2017.625,"a":13,"b":12,"c":14,"d":12,"e":13,"f":14,"g":12,"h":14,"i":13,"j":12},
{"t":2017.667,"a":15,"b":16,"c":14,"d":16,"e":14,"f":15,"g":16,"h":14,"i":16,"j":15},
{"t":2017.708,"a":16,"b":16,"c":15,"d":17,"e":17,"f":15,"g":16,"h":17,"i":15,"j":17},
{"t":2017.75,"a":21,"b":20,"c":22,"d":20,"e":21,"f":22,"g":20,"h":22,"i":21,"j":20},
{"t":2017.792,"a":22,"b":26,"c":20,"d":24,"e":18,"f":22,"g":24,"h":20,"i":26,"j":22},
{"t":2017.833,"a":30,"b":30,"c":26,"d":34,"e":32,"f":28,"g":30,"h":34,"i":28,"j":32},
{"t":2017.875,"a":31,"b":29,"c":33,"d":27,"e":31,"f":35,"g":29,"h":33,"i":31,"j":27},
{"t":2017.917,"a":42,"b":46,"c":40,"d":44,"e":38,"f":42,"g":44,"h":40,"i":46,"j":42},
{"t":2017.958,"a":41,"b":41,"c":37,"d":45,"e":43,"f":39,"g":41,"h":45,"i":39,"j":43},
{"t":2018,"a":52,"b":58,"c":49,"d":55,"e":46,"f":52,"g":55,"h":49,"i":58,"j":52},
{"t":2018.042,"a":58,"b":58,"c":52,"d":64,"e":61,"f":55,"g":58,"h":64,"i":55,"j":61},
{"t":2018.083,"a":64,"b":61,"c":67,"d":58,"e":64,"f":70,"g":61,"h":67,"i":64,"j":58},
{"t":2018.125,"a":85,"b":91,"c":82,"d":88,"e":79,"f":85,"g":88,"h":82,"i":91,"j":85},
{"t":2018.167,"a":60,"b":60,"c":54,"d":66,"e":63,"f":57,"g":60,"h":66,"i":57,"j":63},
{"t":2018.208,"a":55,"b":52,"c":58,"d":49,"e":55,"f":61,"g":52,"h":58,"i":55,"j":49},
{"t":2018.25,"a":46,"b":52,"c":43,"d":49,"e":40,"f":46,"g":49,"h":43,"i":52,"j":46},
{"t":2018.292,"a":42,"b":42,"c":36,"d":48,"e":45,"f":39,"g":42,"h":48,"i":39,"j":45},
{"t":2018.333,"a":33,"b":31,"c":35,"d":29,"e":33,"f":37,"g":31,"h":35,"i":33,"j":29},
{"t":2018.375,"a":29,"b":33,"c":27,"d":31,"e":25,"f":29,"g":31,"h":27,"i":33,"j":29},
{"t":2018.417,"a":23,"b":23,"c":19,"d":27,"e":25,"f":21,"g":23,"h":27,"i":21,"j":25},
{"t":2018.458,"a":21,"b":20,"c":22,"d":20,"e":21,"f":22,"g":20,"h":22,"i":21,"j":20},
{"t":2018.5,"a":16,"b":17,"c":15,"d":17,"e":15,"f":16,"g":17,"h":15,"i":17,"j":16},
{"t":2018.542,"a":15,"b":15,"c":14,"d":16,"e":16,"f":14,"g":15,"h":16,"i":14,"j":16},
{"t":2018.583,"a":14,"b":13,"c":15,"d":13,"e":14,"f":15,"g":13,"h":15,"i":14,"j":13},
{"t":2018.625,"a":13,"b":14,"c":12,"d":14,"e":12,"f":13,"g":14,"h":12,"i":14,"j":13},
{"t":2018.667,"a":15,"b":15,"c":14,"d":16,"e":16,"f":14,"g":15,"h":16,"i":14,"j":16},
{"t":2018.708,"a":17,"b":16,"c":18,"d":16,"e":17,"f":18,"g":16,"h":18,"i":17,"j":16},
{"t":2018.75,"a":22,"b":23,"c":21,"d":23,"e":21,"f":22,"g":23,"h":21,"i":23,"j":22},
{"t":2018.792,"a":23,"b":23,"c":19,"d":27,"e":25,"f":21,"g":23,"h":27,"i":21,"j":25},
{"t":2018.833,"a":31,"b":29,"c":33,"d":27,"e":31,"f":35,"g":29,"h":33,"i":31,"j":27},
{"t":2018.875,"a":32,"b":36,"c":30,"d":34,"e":28,"f":32,"g":34,"h":30,"i":36,"j":32},
{"t":2018.917,"a":43,"b":43,"c":39,"d":47,"e":45,"f":41,"g":43,"h":47,"i":41,"j":45},
{"t":2018.958,"a":42,"b":40,"c":44,"d":38,"e":42,"f":46,"g":40,"h":44,"i":42,"j":38},
{"t":2019,"a":50,"b":50,"c":44,"d":56,"e":53,"f":47,"g":50,"h":56,"i":47,"j":53},
{"t":2019.042,"a":57,"b":54,"c":60,"d":51,"e":57,"f":63,"g":54,"h":60,"i":57,"j":51},
{"t":2019.083,"a":70,"b":76,"c":67,"d":73,"e":64,"f":70,"g":73,"h":67,"i":76,"j":70},
{"t":2019.125,"a":56,"b":56,"c":50,"d":62,"e":59,"f":53,"g":56,"h":62,"i":53,"j":59},
{"t":2019.167,"a":60,"b":57,"c":63,"d":54,"e":60,"f":66,"g":57,"h":63,"i":60,"j":54},
{"t":2019.208,"a":46,"b":52,"c":43,"d":49,"e":40,"f":46,"g":49,"h":43,"i":52,"j":46},
{"t":2019.25,"a":46,"b":46,"c":40,"d":52,"e":49,"f":43,"g":46,"h":52,"i":43,"j":49},
{"t":2019.292,"a":34,"b":31,"c":37,"d":28,"e":34,"f":40,"g":31,"h":37,"i":34,"j":28},
{"t":2019.333,"a":32,"b":36,"c":30,"d":34,"e":28,"f":32,"g":34,"h":30,"i":36,"j":32},
{"t":2019.375,"a":24,"b":24,"c":20,"d":28,"e":26,"f":22,"g":24,"h":28,"i":22,"j":26},
{"t":2019.417,"a":23,"b":21,"c":25,"d":19,"e":23,"f":27,"g":21,"h":25,"i":23,"j":19},
{"t":2019.458,"a":17,"b":18,"c":16,"d":18,"e":16,"f":17,"g":18,"h":16,"i":18,"j":17},
{"t":2019.5,"a":16,"b":16,"c":15,"d":17,"e":17,"f":15,"g":16,"h":17,"i":15,"j":17},
{"t":2019.542,"a":14,"b":13,"c":15,"d":13,"e":14,"f":15,"g":13,"h":15,"i":14,"j":13},
{"t":2019.583,"a":14,"b":15,"c":13,"d":15,"e":13,"f":14,"g":15,"h":13,"i":15,"j":14},
{"t":2019.625,"a":13,"b":13,"c":12,"d":14,"e":14,"f":12,"g":13,"h":14,"i":12,"j":14},
{"t":2019.667,"a":15,"b":14,"c":16,"d":14,"e":15,"f":16,"g":14,"h":16,"i":15,"j":14},
{"t":2019.708,"a":16,"b":17,"c":15,"d":17,"e":15,"f":16,"g":17,"h":15,"i":17,"j":16},
{"t":2019.75,"a":21,"b":21,"c":20,"d":22,"e":22,"f":20,"g":21,"h":22,"i":20,"j":22},
{"t":2019.792,"a":23,"b":21,"c":25,"d":19,"e":23,"f":27,"g":21,"h":25,"i":23,"j":19},
{"t":2019.833,"a":31,"b":35,"c":29,"d":33,"e":27,"f":31,"g":33,"h":29,"i":35,"j":31},
{"t":2019.875,"a":33,"b":33,"c":29,"d":37,"e":35,"f":31,"g":33,"h":37,"i":31,"j":35},
{"t":2019.917,"a":45,"b":43,"c":47,"d":41,"e":45,"f":49,"g":43,"h":47,"i":45,"j":41},
{"t":2019.958,"a":46,"b":50,"c":44,"d":48,"e":42,"f":46,"g":48,"h":44,"i":50,"j":46},
{"t":2020,"a":55,"b":53,"c":57,"d":54,"e":56,"f":58,"g":52,"h":55,"i":57,"j":54}
]},
"transform":[
{"fold":["a","b","c","d","e","f","g","h","i","j"],"as":["k","v"]},
{"lookup":"k","from":{"data":{"values":[
{"k":"a","station":"WŁODAWA"},{"k":"b","station":"WARSZAWA"},{"k":"c","station":"TERESPOL"},{"k":"d","station":"TARNÓW"},{"k":"e","station":"SIEDLCE"},{"k":"f","station":"SANDOMIERZ"},{"k":"g","station":"RZESZÓW-JASIONKA"},{"k":"h","station":"LUBLIN-RADAWIEC"},{"k":"i","station":"KOZIENICE"},{"k":"j","station":"KIELCE-SUKÓW"}]},"key":"k","fields":["station"]}}
],
"facet":{"row":{"field":"station","type":"nominal","title":null,
"sort":["WŁODAWA","WARSZAWA","TERESPOL","TARNÓW","SIEDLCE","SANDOMIERZ","RZESZÓW-JASIONKA","LUBLIN-RADAWIEC","KOZIENICE","KIELCE-SUKÓW"],
"header":{"labels":false,"title":null}}},
"spacing":{"row":0},
"spec":{
"width":516,"height":41,
"layer":[
{"mark":{"type":"line","strokeWidth":1.4,"clip":false},
"encoding":{
"x":{"field":"t","type":"quantitative","scale":{"domain":[2005,2020],"nice":false,"zero":false},
"axis":{"labels":false,"ticks":false,"tickSize":0,"title":"year of time series","titlePadding":24}},
"y":{"field":"v","type":"quantitative","scale":{"domain":[0,100],"nice":false,"zero":false},
"axis":{"values":[0,100],"labels":false,"title":null,"grid":true,"gridColor":"#dcdcdc","gridWidth":1,"tickSize":7,"tickColor":"#000","tickWidth":1.2,"domainColor":"#000","domainWidth":1.5}},
"color":{"field":"station","type":"nominal","legend":null,
"scale":{"domain":["WŁODAWA","WARSZAWA","TERESPOL","TARNÓW","SIEDLCE","SANDOMIERZ","RZESZÓW-JASIONKA","LUBLIN-RADAWIEC","KOZIENICE","KIELCE-SUKÓW"],
"range":["#ff6a0f","#8c8f12","#7a4a48","#1fcfcf","#d6a10c","#b57be0","#30a263","#1f67d6","#ec3f46","#4d4d4d"]}}}},
{"transform":[{"aggregate":[{"op":"count","as":"n"}],"groupby":["station"]}],
"mark":{"type":"text","align":"right","baseline":"middle","dx":-7,"font":"Liberation Serif","fontSize":15.5,"color":"#1a1a1a"},
"encoding":{"x":{"datum":2005},"y":{"datum":50},"text":{"field":"station"}}},
{"transform":[{"filter":"datum.station == 'KIELCE-SUKÓW' && datum.t == floor(datum.t)"}],
"mark":{"type":"rule","color":"#000","strokeWidth":1.2,"clip":false},
"encoding":{"x":{"field":"t","type":"quantitative"},"y":{"datum":0},"y2":{"datum":-17}}},
{"transform":[{"filter":"datum.station == 'KIELCE-SUKÓW' && datum.t == floor(datum.t) && datum.t < 2020"}],
"mark":{"type":"text","align":"center","baseline":"top","dx":17,"dy":5,"font":"Liberation Serif","fontSize":12.5,"color":"#111","clip":false},
"encoding":{"x":{"field":"t","type":"quantitative"},"y":{"datum":0},"text":{"field":"t","type":"quantitative","format":"d"}}},
{"transform":[{"aggregate":[{"op":"count","as":"n"}],"groupby":["station"]}],
"mark":{"type":"rule","strokeDash":[3,2],"color":"#7a7a7a","strokeWidth":1,"clip":false},
"encoding":{"x":{"datum":2005.6},"y":{"datum":109.7},"y2":{"datum":9.7}}},
{"transform":[{"aggregate":[{"op":"count","as":"n"}],"groupby":["station"]}],
"mark":{"type":"rule","strokeDash":[3,2],"color":"#7a7a7a","strokeWidth":1,"clip":false},
"encoding":{"x":{"datum":2006.57},"y":{"datum":109.7},"y2":{"datum":9.7}}},
{"transform":[{"aggregate":[{"op":"count","as":"n"}],"groupby":["station"]},{"filter":"datum.station == 'WŁODAWA'"}],
"mark":{"type":"rule","strokeDash":[3,2],"color":"#7a7a7a","strokeWidth":1,"clip":false},
"encoding":{"x":{"datum":2005.6},"x2":{"datum":2006.57},"y":{"datum":109.7}}},
{"transform":[{"aggregate":[{"op":"count","as":"n"}],"groupby":["station"]},{"filter":"datum.station == 'KIELCE-SUKÓW'"}],
"mark":{"type":"rule","strokeDash":[3,2],"color":"#7a7a7a","strokeWidth":1,"clip":false},
"encoding":{"x":{"datum":2005.6},"x2":{"datum":2006.57},"y":{"datum":9.7}}},
{"transform":[{"aggregate":[{"op":"count","as":"n"}],"groupby":["station"]},{"filter":"datum.station == 'WŁODAWA'"}],
"mark":{"type":"rule","color":"#000","strokeWidth":1.5,"clip":false},
"encoding":{"x":{"datum":2005},"y":{"datum":100},"y2":{"datum":122}}}
]},
"config":{"view":{"stroke":null},"font":"Liberation Serif",
"axisX":{"domainColor":"#000","domainWidth":1.5,"grid":false,"titleFont":"Liberation Serif","titleFontSize":20,"titleFontWeight":"normal","titleColor":"#111"}}
}
